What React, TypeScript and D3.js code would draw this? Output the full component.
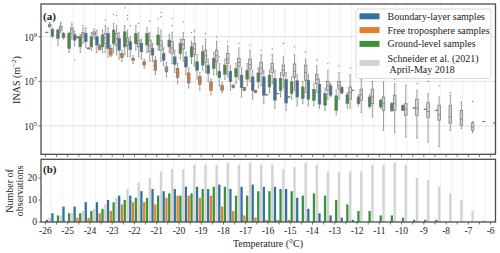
import React from 'react';
import * as d3 from 'd3';

// temperature bins (°C), one per category
const temps = [-26, -25.5, -25, -24.5, -24, -23.5, -23, -22.5, -22, -21.5, -21, -20.5, -20, -19.5, -19, -18.5, -18, -17.5, -17, -16.5, -16, -15.5, -15, -14.5, -14, -13.5, -13, -12.5, -12, -11.5, -11, -10.5, -10, -9.5, -9, -8.5, -8, -7.5, -7, -6.5, -6];
const xTickLabels = [-26, -25, -24, -23, -22, -21, -20, -19, -18, -17, -16, -15, -14, -13, -12, -11, -10, -9, -8, -7, -6];
const yTopTicks = [9, 7, 5];
const yBotTicks = [0, 10, 20];

const seriesNames = ['Boundary-layer samples', 'Free troposphere samples', 'Ground-level samples', 'Schneider et al. (2021)'];
const seriesNames2 = ['', '', '', ' April-May 2018'];

// counts of observations per bin
const blueCount = [0, 4, 7, 7, 9, 9, 10, 12, 12, 14, 15, 14, 15, 16, 16, 15, 17, 15, 16, 17, 16, 16, 15, 11, 6, 4, 3, 2, 1, 0, 0, 0, 0, 0, 0, 0, 0, 0, 0, 0, 0];
const orangeCount = [0, 0, 0, 2, 2, 4, 5, 8, 9, 9, 8, 11, 12, 12, 11, 12, 7, 5, 3, 2, 1, 1, 1, 0, 0, 0, 0, 0, 0, 0, 0, 0, 0, 0, 0, 0, 0, 0, 0, 0, 0];
const greenCount = [1, 3, 4, 4, 5, 6, 9, 10, 11, 11, 12, 13, 12, 13, 15, 16, 16, 12, 12, 14, 14, 15, 14, 12, 13, 12, 10, 8, 5, 5, 3, 3, 2, 1, 1, 1, 0, 0, 0, 0, 0];
const grayCount = [2, 3, 4, 5, 6, 8, 11, 15, 18, 20, 23, 24, 24, 26, 26, 26, 27, 26, 27, 26, 26, 24, 25, 27, 26, 23, 23, 23, 23, 26, 26, 27, 26, 20, 19, 16, 13, 10, 5, 1, 1];

// box stats as log10(INAS): [whisker low, q1, median, q3, whisker high]
type Box = number[] | null;
const blueBoxes: Box[] = [
  null,
  [8.97, 9.03, 9.15, 9.33, 9.38], [8.9, 8.97, 9.05, 9.15, 9.2], [8.6, 8.85, 8.97, 9.1, 9.25], [8.5, 8.78, 8.95, 9.15, 9.4],
  [8.3, 8.63, 8.8, 9.0, 9.3], [8.1, 8.48, 8.85, 9.15, 9.4], [8.0, 8.4, 8.65, 8.93, 9.2], [8.1, 8.43, 8.6, 8.78, 9.0],
  [8.0, 8.33, 8.5, 8.7, 8.9], [7.9, 8.18, 8.3, 8.48, 8.7], [7.7, 7.95, 8.1, 8.25, 8.5], [7.4, 7.77, 7.95, 8.1, 8.4],
  [7.3, 7.65, 7.9, 8.1, 8.3], [7.1, 7.5, 7.7, 7.88, 8.2], [7.0, 7.35, 7.55, 7.73, 8.0], [6.8, 7.17, 7.3, 7.45, 7.8],
  [6.6, 7.0, 7.25, 7.45, 7.7], [6.3, 6.72, 7.0, 7.28, 7.6], [6.2, 6.6, 6.9, 7.2, 7.5], [6.0, 6.38, 6.8, 7.2, 7.5],
  [5.8, 6.16, 6.6, 7.13, 7.5], [5.7, 6.03, 6.5, 7.08, 7.4], [5.9, 6.3, 6.6, 7.03, 7.3], [5.9, 6.2, 6.6, 7.05, 7.3],
  [5.8, 5.98, 6.4, 6.87, 7.1], [6.3, 6.38, 6.6, 6.8, 6.9], [6.45, 6.48, 6.6, 6.73, 6.75], [6.6, 6.6, 6.6, 6.6, 6.6],
  null, null, null, null, null, null, null, null, null, null, null, null,
];
const orangeBoxes: Box[] = [
  null, null, null,
  [8.95, 8.95, 8.97, 9.0, 9.0], [8.46, 8.46, 8.48, 8.5, 8.5], [8.4, 8.43, 8.5, 8.6, 8.65], [8.1, 8.18, 8.3, 8.48, 8.6],
  [7.9, 8.07, 8.15, 8.25, 8.4], [7.8, 7.95, 8.0, 8.03, 8.15], [7.6, 7.73, 7.8, 7.88, 8.0], [7.3, 7.5, 7.7, 7.95, 8.1],
  [7.2, 7.43, 7.55, 7.65, 7.85], [6.9, 7.18, 7.4, 7.58, 7.8], [6.7, 6.93, 7.15, 7.38, 7.6], [6.6, 6.87, 7.05, 7.23, 7.4],
  [6.4, 6.6, 6.8, 6.98, 7.1], [6.5, 6.6, 6.7, 6.83, 6.95], [6.7, 6.72, 6.78, 6.83, 6.85], [6.57, 6.6, 6.65, 6.72, 6.73],
  [6.5, 6.5, 6.55, 6.6, 6.6], [6.4, 6.4, 6.4, 6.4, 6.4], [6.45, 6.45, 6.45, 6.45, 6.45], [6.3, 6.3, 6.3, 6.3, 6.3],
  null, null, null, null, null, null, null, null, null, null, null, null, null, null, null, null, null, null,
];
const greenBoxes: Box[] = [
  [9.2, 9.2, 9.2, 9.2, 9.2],
  [8.6, 8.93, 9.1, 9.3, 9.35], [8.3, 8.48, 8.8, 9.15, 9.2], [8.3, 8.55, 8.8, 9.0, 9.1], [8.4, 8.55, 8.75, 9.0, 9.2],
  [8.3, 8.55, 8.85, 9.08, 9.3], [8.3, 8.7, 9.0, 9.3, 9.6], [8.2, 8.55, 8.9, 9.22, 9.5], [8.4, 8.7, 8.95, 9.15, 9.5],
  [8.3, 8.63, 8.9, 9.15, 9.4], [8.4, 8.63, 8.85, 9.08, 9.4], [8.3, 8.55, 8.7, 8.85, 9.1], [8.0, 8.25, 8.5, 8.7, 8.9],
  [7.8, 8.1, 8.35, 8.55, 8.8], [7.5, 7.73, 8.05, 8.33, 8.6], [7.3, 7.58, 7.8, 8.03, 8.3], [7.1, 7.32, 7.5, 7.73, 8.0],
  [6.9, 7.2, 7.4, 7.58, 7.8], [6.8, 7.1, 7.3, 7.5, 7.8], [6.7, 6.98, 7.15, 7.38, 7.6], [6.5, 6.75, 7.0, 7.28, 7.5],
  [6.3, 6.6, 6.9, 7.13, 7.4], [6.2, 6.45, 6.7, 6.98, 7.2], [6.0, 6.23, 6.5, 6.75, 7.0], [5.9, 6.15, 6.4, 6.64, 6.9],
  [5.7, 5.93, 6.2, 6.45, 6.7], [5.5, 5.7, 6.0, 6.35, 6.6], [5.8, 6.0, 6.2, 6.4, 6.5], [5.9, 6.0, 6.15, 6.3, 6.4],
  [5.8, 5.88, 6.1, 6.3, 6.4], [5.8, 5.86, 6.0, 6.15, 6.2], [5.65, 5.7, 5.85, 6.0, 6.05], [5.7, 5.7, 5.8, 5.93, 5.93],
  [5.8, 5.8, 5.8, 5.8, 5.8], [5.75, 5.75, 5.75, 5.75, 5.75], [5.7, 5.7, 5.7, 5.7, 5.7],
  null, null, null, null, null,
];
const grayBoxes: Box[] = [
  [9.4, 9.45, 9.5, 9.55, 9.6], [9.2, 9.3, 9.4, 9.48, 9.6], [8.9, 9.15, 9.3, 9.4, 9.55], [8.7, 9.0, 9.1, 9.2, 9.4],
  [8.9, 9.08, 9.15, 9.22, 9.35], [8.3, 8.7, 8.95, 9.15, 9.5], [8.2, 8.63, 8.9, 9.15, 9.5], [8.1, 8.63, 8.8, 8.93, 9.3],
  [8.1, 8.55, 8.7, 8.85, 9.2], [7.9, 8.33, 8.6, 8.85, 9.2], [7.9, 8.4, 8.6, 8.82, 9.3], [7.8, 8.25, 8.5, 8.78, 9.2],
  [7.9, 8.45, 8.65, 8.88, 9.2], [7.7, 8.2, 8.45, 8.7, 9.0], [7.4, 7.85, 8.15, 8.4, 8.9], [7.3, 7.88, 8.15, 8.4, 8.8],
  [7.2, 7.8, 8.0, 8.25, 8.6], [7.1, 7.65, 7.85, 8.03, 8.5], [7.0, 7.55, 7.75, 8.0, 8.4], [6.8, 7.35, 7.6, 7.85, 8.2],
  [6.9, 7.4, 7.6, 7.8, 8.2], [6.7, 7.25, 7.5, 7.73, 8.1], [6.6, 7.18, 7.45, 7.78, 8.2], [6.5, 7.05, 7.4, 7.73, 8.0],
  [6.5, 6.9, 7.1, 7.32, 7.7], [6.2, 6.6, 6.8, 7.0, 7.5], [6.2, 6.65, 6.8, 7.0, 7.4], [5.8, 6.2, 6.5, 6.75, 7.3],
  [5.6, 6.15, 6.4, 6.65, 7.1], [5.4, 6.0, 6.3, 6.65, 7.0], [4.8, 5.7, 6.0, 6.3, 6.98], [4.7, 5.7, 6.0, 6.38, 6.9],
  [4.5, 5.48, 5.75, 6.0, 6.83], [4.45, 5.48, 5.8, 6.2, 6.6], [4.28, 5.38, 5.65, 6.04, 6.45], [4.07, 5.26, 5.5, 5.93, 6.3],
  [4.8, 5.12, 5.4, 5.93, 6.38], [4.88, 5.03, 5.3, 5.7, 6.08], [4.7, 4.8, 4.95, 5.14, 5.2], [5.2, 5.2, 5.2, 5.2, 5.2],
  [5.14, 5.14, 5.14, 5.14, 5.14],
];

// outliers: [temperature, log10(INAS)]
const grayFliers = [
  [-26, 9.64], [-25.5, 9.66], [-25, 9.62], [-24.5, 9.5], [-23.5, 9.75], [-23, 9.95], [-22.5, 9.8], [-22.5, 9.95], [-22, 9.6],
  [-21.5, 9.7], [-21, 10.1], [-21, 9.9], [-20.5, 9.83], [-20.5, 9.5], [-20, 9.67], [-19.5, 9.3], [-19.5, 9.22], [-19, 9.15],
  [-18.5, 9.0], [-18, 8.8], [-17.5, 8.7], [-17, 8.63], [-16.5, 8.4], [-16, 8.45], [-15.5, 8.7], [-15, 8.55], [-14.5, 8.33],
  [-14, 7.95], [-13.5, 7.8], [-13, 7.7], [-12.5, 7.6], [-12, 7.4], [-11.5, 7.6], [-11, 7.2], [-10.5, 7.1], [-10.5, 7.25],
  [-10, 7.2], [-9.5, 6.9], [-9, 7.0], [-8.5, 6.8], [-8, 6.5], [-7, 6.1],
];
const blueFliers = [[-24.5, 7.95], [-22, 9.5], [-18, 8.1]];
const greenFliers = [[-23, 10.0], [-22.5, 10.3], [-21, 9.8], [-19.5, 9.2]];

const colors = ['#3274a1', '#e1812c', '#3a923a', '#d3d3d3'];
const edge = '#737373';
const FONT = '"Liberation Serif", "Times New Roman", "DejaVu Serif", serif';

export default function App() {
  const L = 41, R = 495.5, T1 = 4, B1 = 154.3, T2 = 159.3, B2 = 222;
  const x = d3.scaleLinear().domain([-26.2, -5.78]).range([L, R]);
  const yTop = d3.scaleLog().domain([10 ** 3.73, 10 ** 10.47]).range([B1, T1]);
  const yBot = d3.scaleLinear().domain([0, 28.5]).range([B2, T2]);
  const slot = 2.8;
  const offsets = [-1.5 * slot, -0.5 * slot, 0.5 * slot, 1.5 * slot];
  const boxW = 2.6;
  const barW = 2.3;
  const allBoxes = [blueBoxes, orangeBoxes, greenBoxes, grayBoxes];
  const allCounts = [blueCount, orangeCount, greenCount, grayCount];
  const fliers = [blueFliers, [], greenFliers, grayFliers];
  const ys = (v: number) => yTop(10 ** v);

  const gridXs = temps.map((t) => t + 0.25).slice(0, -1);

  return (
    <svg width={500} height={253} style={{ position: 'absolute', left: 0, top: 0, background: '#fff' }} fontFamily={FONT}>
      <defs>
        <clipPath id="clipTop"><rect x={L} y={T1} width={R - L} height={B1 - T1} /></clipPath>
        <clipPath id="clipBot"><rect x={L} y={T2} width={R - L} height={B2 - T2} /></clipPath>
      </defs>
      {/* gridlines */}
      <g stroke="#ececec" strokeWidth={0.8}>
        {gridXs.map((t, i) => <line key={'gt' + i} x1={x(t)} x2={x(t)} y1={T1} y2={B1} />)}
        {gridXs.map((t, i) => <line key={'gb' + i} x1={x(t)} x2={x(t)} y1={T2} y2={B2} />)}
      </g>
      <g stroke="#dcdcdc" strokeWidth={0.9}>
        {yTopTicks.map((e) => <line key={'gy' + e} x1={L} x2={R} y1={ys(e)} y2={ys(e)} />)}
      </g>
      {/* boxes */}
      <g clipPath="url(#clipTop)">
        {allBoxes.map((boxes, s) => (
          <g key={'s' + s}>
            {boxes.map((b, i) => {
              if (!b) return null;
              const cx = x(temps[i]) + offsets[s];
              const [lo, q1, md, q3, hi] = b;
              return (
                <g key={i} stroke={edge} strokeWidth={0.7}>
                  <line x1={cx} x2={cx} y1={ys(lo)} y2={ys(q1)} />
                  <line x1={cx} x2={cx} y1={ys(q3)} y2={ys(hi)} />
                  <line x1={cx - boxW / 4} x2={cx + boxW / 4} y1={ys(lo)} y2={ys(lo)} />
                  <line x1={cx - boxW / 4} x2={cx + boxW / 4} y1={ys(hi)} y2={ys(hi)} />
                  <rect x={cx - boxW / 2} y={ys(q3)} width={boxW} height={Math.max(0.01, ys(q1) - ys(q3))} fill={colors[s]} />
                  <line x1={cx - boxW / 2} x2={cx + boxW / 2} y1={ys(md)} y2={ys(md)} />
                </g>
              );
            })}
            {fliers[s].map((f, k) => {
              const i = temps.indexOf(f[0]);
              const cx = x(temps[i]) + offsets[s];
              return <circle key={'f' + k} cx={cx} cy={ys(f[1])} r={0.6} fill="#6a6a6a" />;
            })}
          </g>
        ))}
      </g>
      {/* bars */}
      <g clipPath="url(#clipBot)">
        {allCounts.map((counts, s) => (
          <g key={'b' + s} fill={colors[s]}>
            {counts.map((c, i) => c > 0 ? (
              <rect key={i} x={x(temps[i]) + offsets[s] - barW / 2} y={yBot(c)} width={barW} height={yBot(0) - yBot(c)} />
            ) : null)}
          </g>
        ))}
      </g>
      {/* frames */}
      <rect x={L} y={T1} width={R - L} height={B1 - T1} fill="none" stroke="#4d4d4d" strokeWidth={1.3} />
      <rect x={L} y={T2} width={R - L} height={B2 - T2} fill="none" stroke="#4d4d4d" strokeWidth={1.3} />
      {/* x ticks */}
      <g stroke="#4d4d4d" strokeWidth={0.8}>
        {temps.map((t, i) => <line key={'xt' + i} x1={x(t)} x2={x(t)} y1={B1} y2={B1 + 2.5} />)}
        {temps.map((t, i) => <line key={'xb' + i} x1={x(t)} x2={x(t)} y1={B2} y2={B2 + 2.5} />)}
        {yTopTicks.map((e) => <line key={'yt' + e} x1={L - 2.5} x2={L} y1={ys(e)} y2={ys(e)} />)}
        {yBotTicks.map((v) => <line key={'yb' + v} x1={L - 2.5} x2={L} y1={yBot(v)} y2={yBot(v)} />)}
      </g>
      <g fontSize={9.5} fill="#222" textAnchor="middle">
        {xTickLabels.map((t) => <text key={'xl' + t} x={x(t)} y={234}>{String(t)}</text>)}
      </g>
      <g fontSize={9.5} fill="#222" textAnchor="end">
        {yBotTicks.map((v) => <text key={'ybl' + v} x={37} y={yBot(v) + 3.3}>{String(v)}</text>)}
        {yTopTicks.map((e) => (
          <text key={'ytl' + e} x={37} y={ys(e) + 4}>10<tspan fontSize={6.5} dy={-4}>{String(e)}</tspan></text>
        ))}
      </g>
      {/* panel labels */}
      <text x={43} y={19.5} fontSize={11} fontWeight="bold" fill="#222">(a)</text>
      <text x={43} y={173} fontSize={11} fontWeight="bold" fill="#222">(b)</text>
      {/* axis titles */}
      <text transform="translate(19.5,80) rotate(-90)" textAnchor="middle" fontSize={10} fill="#222">
        INAS (m<tspan fontSize={7} dy={-3.5}>−2</tspan><tspan dy={3.5}>)</tspan>
      </text>
      <text transform="translate(13,191) rotate(-90)" textAnchor="middle" fontSize={10} fill="#222">Number of</text>
      <text transform="translate(23,191) rotate(-90)" textAnchor="middle" fontSize={10} fill="#222">observations</text>
      <text x={268} y={247} textAnchor="middle" fontSize={10} fill="#222">Temperature (°C)</text>
      {/* legend */}
      <g>
        <rect x={356} y={9} width={135} height={69.5} rx={2} fill="#fff" fillOpacity={0.85} stroke="#d0d0d0" strokeWidth={0.8} />
        {seriesNames.map((name, s) => {
          const cy = s < 3 ? 16.3 + s * 13.8 : 63;
          return (
            <g key={'lg' + s}>
              <rect x={359.5} y={cy - 3} width={20} height={6} fill={colors[s]} />
              <text x={387.5} y={s < 3 ? cy + 3.5 : 62} fontSize={10} fill="#222">{name}</text>
              {seriesNames2[s] ? <text x={387.5} y={73.3} fontSize={10} fill="#222" xmlSpace="preserve">{seriesNames2[s]}</text> : null}
            </g>
          );
        })}
      </g>
    </svg>
  );
}
